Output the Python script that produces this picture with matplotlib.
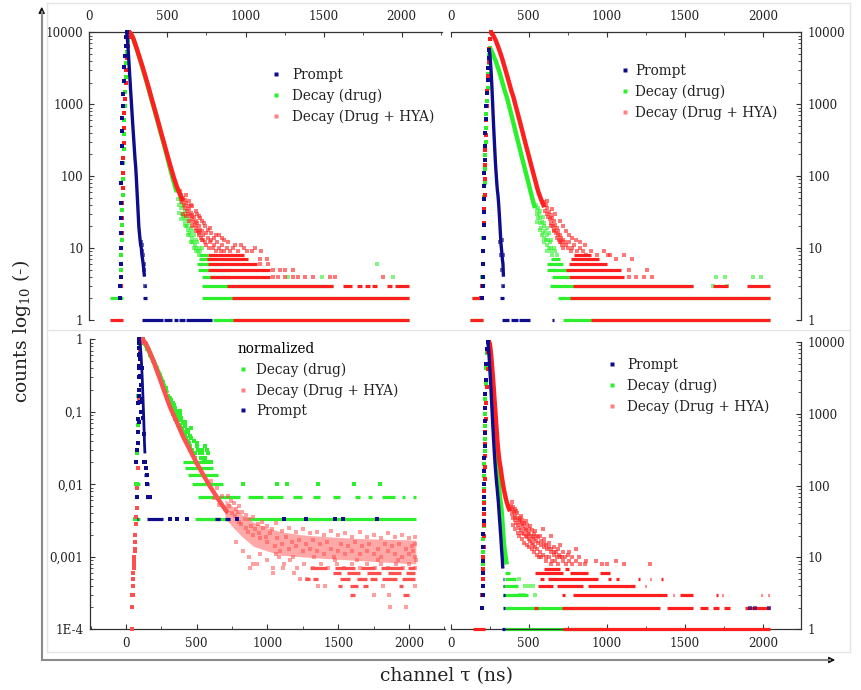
import matplotlib
matplotlib.use('Agg')
import matplotlib.pyplot as plt
from matplotlib.lines import Line2D
from matplotlib.patches import FancyArrowPatch
from matplotlib.ticker import MultipleLocator, FixedLocator, FixedFormatter, LogLocator, NullFormatter

plt.rcParams['font.family'] = ['DejaVu Serif']
plt.rcParams['mathtext.fontset'] = 'dejavuserif'

W, H = 862, 690

BLUE = '#0c0c8c'
GREEN = '#2cf02c'
RED = '#ff1f1f'
PINK = '#ff8080'

# ---------------- top left: raw counts ----------------
a_prompt_rise = [(196, 2), (198, 3), (200, 4), (201, 6), (202, 10), (203, 16), (204, 26), (205, 42), (206, 80),
                 (207, 150), (208, 260), (210, 420), (212, 640), (214, 950), (217, 1400), (220, 2100), (224, 3300),
                 (228, 4700), (232, 6500), (236, 8500), (239, 10000)]
a_prompt_fall = [(239, 10000), (242, 9000), (245, 7500), (249, 5600), (253, 4100), (257, 2900), (261, 2100),
                 (265, 1500), (269, 1100), (273, 790), (277, 570), (281, 420), (285, 310), (289, 230), (293, 170),
                 (297, 135), (301, 95), (305, 65), (309, 44), (313, 30), (317, 20), (321, 16), (325, 13), (329, 11),
                 (333, 10), (337, 8), (341, 7), (345, 6), (349, 5), (353, 4)]
a_prompt_tail = [(330, 12), (336, 9), (340, 11), (344, 8), (348, 6), (352, 5), (356, 3)]
a_prompt_rows = [(1, 335, 470), (1, 480, 530), (1, 545, 565), (1, 575, 610), (1, 620, 783), (2, 345, 372), (3, 350, 362)]

a_drug_rise = [(199, 2), (201, 3), (203, 5), (205, 8), (207, 13), (209, 21), (211, 34), (213, 55), (215, 90),
               (217, 150), (219, 240), (221, 380), (223, 600), (226, 950), (229, 1500), (233, 2400), (237, 3700),
               (241, 5400), (245, 7600), (250, 10000)]
a_drug_fall = [(250, 10000), (256, 9900), (265, 9600), (280, 8300), (300, 6200), (320, 4500), (340, 3250), (360, 2300),
               (380, 1620), (400, 1130), (420, 790), (440, 550), (460, 380), (480, 265), (500, 180), (520, 122),
               (540, 84), (560, 60)]
a_drug_tail = [(565, 48), (570, 62), (575, 40), (580, 52), (585, 36), (590, 44), (595, 30), (600, 38), (605, 26),
               (610, 33), (615, 24), (620, 29), (625, 20), (630, 25), (635, 18), (640, 22), (645, 15), (650, 19),
               (655, 14), (660, 17), (665, 12), (670, 15), (675, 11), (680, 13), (685, 10), (690, 12), (695, 9),
               (700, 10), (705, 8), (710, 9), (720, 10), (600, 28), (620, 20), (640, 16), (660, 12), (680, 9),
               (630, 15), (650, 12), (670, 10), (590, 25), (610, 21), (575, 31), (1274, 4), (1487, 4), (1946, 4),
               (1840, 6)]
a_drug_rows = [(2, 133, 218), (3, 182, 207), (1, 794, 2047), (2, 724, 2047), (3, 724, 1562), (4, 720, 900),
               (5, 698, 900), (6, 687, 850), (7, 700, 780), (8, 700, 760)]

a_hya_rise = [(198, 2), (200, 3), (202, 4), (204, 6), (206, 10), (208, 16), (210, 26), (212, 42), (214, 68),
              (216, 110), (218, 180), (220, 290), (222, 460), (225, 750), (228, 1200), (232, 1950), (236, 3000),
              (240, 4400), (245, 6400), (251, 8700), (256, 10000)]
a_hya_fall = [(256, 10000), (265, 9700), (280, 8400), (300, 6300), (320, 4600), (340, 3350), (360, 2400),
              (380, 1700), (400, 1180), (420, 830), (440, 580), (460, 400), (480, 280), (500, 195), (520, 137),
              (540, 97), (560, 72), (580, 56), (600, 45)]
a_hya_tail = [(580, 62), (585, 48), (590, 55), (595, 44), (600, 50), (605, 40), (610, 46), (615, 36), (620, 42),
              (625, 33), (630, 38), (635, 30), (640, 35), (645, 28), (650, 31), (655, 25), (660, 29), (665, 23),
              (670, 27), (675, 21), (680, 24), (685, 19), (690, 22), (695, 17), (700, 20), (705, 16), (710, 18),
              (715, 14), (720, 17), (725, 13), (730, 15), (740, 12), (745, 16), (750, 11), (760, 14), (765, 10),
              (770, 12), (780, 13), (790, 10), (800, 11), (810, 9), (820, 12), (830, 10), (840, 9), (850, 11),
              (860, 9), (880, 10), (900, 9), (920, 10), (950, 9), (990, 10), (1040, 9), (1100, 9), (600, 30),
              (620, 28), (640, 24), (660, 20), (680, 17), (700, 15), (720, 13), (650, 40), (680, 33), (700, 28),
              (720, 24), (740, 20), (760, 18), (780, 16), (800, 14), (830, 15), (860, 13), (620, 55), (640, 45),
              (660, 38), (1093, 6), (1146, 6), (1093, 7), (1136, 7), (1178, 4), (1210, 4), (1253, 4), (1306, 4),
              (1338, 4), (1381, 4), (1434, 4), (1541, 4), (1573, 4), (1882, 4), (1178, 5), (1221, 5), (1253, 5),
              (1306, 5), (690, 30), (710, 26), (735, 22), (770, 19), (810, 15), (850, 14), (890, 12), (930, 11),
              (970, 11), (1010, 9), (1060, 10)]
a_hya_rows = [(1, 133, 218), (1, 920, 2047), (2, 911, 2047), (3, 880, 1562), (3, 1626, 1680), (3, 1712, 1744),
              (3, 1765, 1797), (3, 1808, 1840), (3, 1904, 1936), (3, 1957, 2047), (4, 773, 1157), (5, 760, 1157),
              (6, 760, 1071), (7, 751, 1018), (8, 760, 990)]

# ---------------- top right: raw counts ----------------
b_prompt_rise = [(203, 2), (205, 3), (207, 4), (209, 6), (210, 9), (211, 14), (212, 21), (213, 32), (214, 48),
                 (215, 72), (216, 110), (218, 170), (220, 260), (222, 400), (225, 620), (228, 950), (232, 1450),
                 (236, 2200), (240, 3200), (244, 4400), (248, 5600)]
b_prompt_fall = [(248, 5600), (251, 4900), (254, 4100), (257, 3300), (260, 2600), (263, 1950), (266, 1400),
                 (269, 1000), (272, 700), (275, 500), (279, 330), (283, 220), (287, 150), (291, 110), (295, 82),
                 (299, 64), (303, 54), (307, 42), (311, 31), (315, 22), (319, 15), (323, 11), (327, 9), (331, 7),
                 (335, 6), (338, 4)]
b_prompt_tail = [(318, 12), (322, 8), (326, 13), (330, 5), (334, 8), (336, 3)]
b_prompt_rows = [(1, 327, 375), (1, 385, 430), (1, 440, 508), (1, 652, 664), (2, 315, 343), (3, 330, 340)]

b_drug_rise = [(197, 2), (200, 3), (203, 4), (206, 6), (208, 9), (210, 14), (212, 22), (214, 34), (216, 52),
               (218, 80), (220, 125), (222, 195), (224, 300), (226, 460), (229, 720), (232, 1100), (236, 1700),
               (240, 2600), (244, 3700), (248, 4900), (252, 6000)]
b_drug_fall = [(252, 6000), (260, 5600), (270, 5000), (280, 4400), (290, 3900), (300, 3350), (310, 2900),
               (320, 2450), (330, 2050), (340, 1720), (350, 1450), (360, 1250), (380, 850), (400, 570), (420, 380),
               (440, 255), (460, 170), (480, 115), (500, 78), (520, 52), (540, 36)]
b_drug_tail = [(545, 40), (550, 30), (555, 34), (560, 26), (565, 30), (570, 22), (575, 26), (580, 19), (585, 23),
               (590, 16), (595, 20), (600, 14), (605, 17), (610, 13), (615, 15), (620, 11), (625, 13), (630, 10),
               (635, 12), (640, 9), (645, 10), (650, 8), (560, 36), (575, 33), (590, 27), (600, 22), (615, 19),
               (630, 16), (645, 13), (660, 10), (670, 9), (680, 8), (555, 23), (570, 18), (585, 15), (600, 12),
               (620, 9), (1680, 3), (1770, 3), (1700, 4), (1760, 4), (1940, 4), (1990, 4)]
b_drug_rows = [(1, 125, 209), (2, 134, 209), (1, 722, 2047), (2, 690, 2047), (3, 636, 1553), (4, 650, 755),
               (5, 620, 760), (6, 620, 720), (7, 640, 700)]

b_hya_rise = [(195, 2), (200, 3), (204, 4), (207, 6), (209, 9), (211, 14), (213, 22), (215, 35), (217, 55),
              (219, 90), (221, 145), (223, 230), (225, 370), (228, 600), (231, 950), (235, 1550), (239, 2500),
              (243, 3900), (247, 5800), (251, 8000), (256, 10000)]
b_hya_fall = [(256, 10000), (270, 9300), (290, 7600), (310, 5800), (330, 4300), (350, 3050), (370, 2150),
              (390, 1500), (401, 1280), (420, 890), (440, 610), (460, 415), (480, 280), (500, 192), (520, 131),
              (540, 90), (560, 62), (580, 47), (600, 37)]
b_hya_tail = [(600, 44), (605, 33), (610, 40), (615, 30), (620, 36), (625, 27), (630, 32), (635, 25), (640, 29),
              (645, 22), (650, 26), (655, 20), (660, 24), (665, 18), (670, 21), (675, 16), (680, 19), (685, 15),
              (690, 17), (695, 13), (700, 15), (705, 12), (710, 14), (715, 11), (720, 13), (730, 12), (740, 11),
              (750, 10), (760, 12), (770, 9), (780, 10), (790, 11), (810, 9), (830, 10), (850, 9), (870, 8),
              (900, 9), (940, 8), (980, 9), (1020, 8), (1060, 7), (1110, 8), (640, 20), (660, 17), (680, 14),
              (700, 12), (720, 10), (620, 45), (650, 35), (670, 30), (700, 24), (720, 20), (740, 17), (760, 15),
              (780, 14), (800, 13), (830, 12), (860, 11), (1140, 4), (1190, 4), (1240, 4), (1290, 4), (1140, 5),
              (1260, 5), (1160, 7), (1010, 8)]
b_hya_rows = [(1, 125, 209), (1, 900, 2047), (2, 134, 209), (2, 765, 2047), (3, 784, 1553), (3, 1680, 1780),
              (3, 1900, 2047), (4, 755, 1110), (5, 740, 1090), (6, 760, 1000), (7, 770, 950), (8, 790, 900)]

# ---------------- bottom left: normalized ----------------
c_prompt_norm = 300
c_drug_norm = 300
c_hya_norm = 10000

c_prompt_rise = [(71, 6), (75, 2), (80, 9), (83, 11), (85, 16), (87, 24), (88, 40), (89, 60), (90, 90), (91, 130),
                 (92, 180), (93, 230), (94, 270), (95, 300)]
c_prompt_fall = [(95, 300), (98, 280), (101, 250), (104, 215), (107, 180), (110, 140), (113, 105), (116, 78),
                 (119, 55), (122, 38), (125, 26), (128, 17), (131, 11), (134, 8)]
c_prompt_tail = [(90, 22), (92, 50), (94, 120), (96, 190), (99, 41), (100, 160), (102, 95), (105, 70), (108, 30),
                 (112, 120), (115, 45), (120, 25), (124, 15), (130, 6), (138, 6), (141, 5), (146, 3), (150, 4),
                 (158, 2), (170, 2), (311, 1), (358, 1), (429, 1), (782, 1), (1117, 1), (1272, 1), (1477, 1),
                 (1536, 1), (1776, 1)]
c_prompt_rows = [(1, 75, 82), (1, 146, 264), (1, 629, 664), (1, 700, 735), (2, 140, 180), (3, 134, 165), (4, 125, 150)]

c_drug_rise = [(64, 1), (70, 3), (75, 3), (80, 8), (85, 20), (88, 50), (92, 120), (96, 200), (100, 260), (105, 290),
               (110, 300)]
c_drug_fall = [(112, 300), (130, 268), (150, 232), (170, 192), (190, 156), (210, 128), (230, 104), (250, 84),
               (270, 67), (290, 54)]
c_drug_tail = [(140, 252), (150, 218), (160, 214), (170, 180), (180, 176), (190, 150), (200, 146), (210, 122),
               (220, 120), (230, 98), (240, 96), (250, 80), (260, 78), (270, 62), (280, 64), (290, 50), (300, 50),
               (305, 42), (310, 47), (315, 40), (320, 44), (325, 36), (330, 40), (335, 33), (340, 37), (345, 30),
               (350, 34), (355, 28), (360, 31), (365, 25), (370, 29), (375, 23), (380, 27), (385, 20), (390, 25),
               (395, 18), (400, 22), (405, 16), (410, 21), (415, 15), (420, 19), (425, 13), (430, 17), (435, 12),
               (440, 16), (445, 11), (450, 14), (455, 10), (460, 13), (470, 9), (480, 12), (490, 8), (500, 10),
               (510, 9), (520, 8), (530, 7), (540, 8), (550, 6), (560, 7), (575, 6), (582, 8), (590, 6), (600, 6),
               (330, 28), (350, 24), (370, 20), (390, 17), (410, 13), (430, 11), (450, 9), (470, 8), (490, 7),
               (310, 36), (290, 46), (380, 31), (420, 22), (460, 18), (500, 11), (540, 9), (560, 10), (575, 9),
               (829, 3), (1065, 3), (1136, 3), (1355, 3), (1614, 3), (1795, 3)]
c_drug_rows = [(1, 52, 99), (1, 488, 2048), (2, 511, 806), (2, 865, 971), (2, 994, 1112), (2, 1183, 1242),
               (2, 1324, 1371), (2, 1465, 1513), (2, 1619, 1654), (2, 1713, 1737), (2, 1807, 1901), (2, 1948, 1972),
               (2, 2031, 2048), (3, 64, 99), (3, 464, 688), (4, 440, 650), (5, 417, 617), (6, 405, 560)]

c_hya_rise = [(40, 1), (42, 2), (44, 2), (46, 3), (47, 3), (48, 4), (50, 5), (52, 4), (52, 6), (54, 7), (56, 8),
              (58, 10), (60, 9), (61, 13), (63, 12), (64, 16), (66, 20), (68, 28), (71, 35), (75, 47), (80, 88),
              (84, 170), (87, 530), (90, 1500), (95, 4000), (100, 7000), (106, 9000), (112, 9800), (118, 10000)]
c_hya_fall = [(118, 10000), (140, 8800), (160, 7200), (180, 5900), (200, 4700), (217, 3770), (240, 2850),
              (260, 2200), (280, 1720), (300, 1340), (311, 1170), (330, 965), (350, 790), (370, 645), (390, 525),
              (405, 450), (425, 378), (450, 303), (475, 243), (500, 195), (525, 160), (550, 131), (575, 108),
              (594, 93), (620, 78), (650, 63), (688, 49), (720, 40)]
c_hya_cloud = [(700, 34, 62), (760, 25, 48), (820, 19, 38), (900, 14, 30), (1000, 12, 25), (1100, 10.5, 22),
               (1250, 10, 20), (1400, 9.5, 19), (1600, 9, 18), (1800, 8.5, 17.5), (2048, 8, 17)]
c_hya_tail = [(600, 110), (620, 65), (640, 90), (660, 52), (680, 70), (700, 45), (720, 70), (740, 58), (760, 55),
              (780, 45), (800, 50), (820, 42), (850, 38), (870, 33), (900, 35), (930, 28), (960, 30), (1000, 27),
              (1030, 24), (1060, 29), (1100, 23), (1150, 25), (1200, 22), (1250, 24), (1300, 21), (1350, 22),
              (1400, 20), (1450, 23), (1500, 20), (1550, 21), (1600, 19), (1650, 22), (1700, 19), (1750, 20),
              (1800, 18), (1850, 21), (1900, 19), (1950, 20), (2000, 18), (2040, 19), (2045, 15),
              (780, 16), (830, 12), (870, 10), (900, 8), (950, 11), (1000, 9), (1040, 7), (1080, 10), (1120, 8),
              (1160, 9), (1210, 7), (1260, 8), (1320, 7), (1380, 8), (1430, 7), (1490, 8), (1540, 7), (1600, 8),
              (1650, 7), (1700, 8), (1760, 7), (1800, 8), (1850, 7), (1910, 8), (1960, 7), (2000, 8), (2040, 7),
              (750, 40), (800, 30), (850, 25), (900, 20), (950, 18), (1000, 16), (1050, 14), (1100, 15), (1150, 13),
              (1200, 14), (1250, 12), (1300, 13), (1350, 12), (1400, 11), (1450, 13), (1500, 12), (1550, 11),
              (1600, 12), (1650, 11), (1700, 12), (1750, 11), (1800, 10), (1850, 12), (1900, 11), (1950, 10),
              (2000, 11), (2040, 10), (2046, 9), (876, 7), (923, 8), (1041, 6), (1110, 7), (1190, 6), (1230, 5),
              (1280, 5), (1359, 4), (1406, 4), (1753, 3), (1859, 3), (1866, 2), (1979, 2), (1819, 4), (2043, 4),
              (730, 50), (770, 36), (790, 42), (810, 28), (840, 33), (860, 22), (880, 27), (910, 24), (940, 21),
              (970, 25), (990, 19), (1020, 21), (1070, 18), (1090, 12), (1130, 19), (1170, 16), (1220, 17),
              (1270, 15), (1320, 17), (1370, 15), (1420, 16), (1470, 10), (1520, 15), (1570, 14), (1620, 16),
              (1670, 14), (1720, 15), (1780, 13), (1830, 15), (1880, 14), (1930, 15), (1980, 13), (2020, 14),
              (1060, 11), (1180, 10), (1330, 10), (1480, 9), (1630, 9), (1780, 9), (1920, 9), (2030, 12)]
c_hya_rows = [(7, 1300, 1420), (7, 1480, 1620), (7, 1660, 1760), (7, 1800, 1960), (7, 1990, 2043),
              (6, 1465, 1520), (6, 1560, 1650), (6, 1700, 1800), (6, 1850, 1940), (6, 1980, 2043),
              (5, 1265, 1300), (5, 1324, 1360), (5, 1512, 1583), (5, 1630, 1700), (5, 1724, 1772), (5, 1807, 1913),
              (5, 1948, 2043), (4, 1500, 1525), (4, 1583, 1642), (4, 1677, 1713), (4, 1932, 1955),
              (3, 1583, 1618), (3, 1960, 2000)]

# ---------------- bottom right: raw counts ----------------
d_prompt_rise = [(203, 2), (205, 3), (206, 4), (207, 6), (208, 9), (209, 14), (210, 21), (211, 32), (212, 48),
                 (213, 70), (214, 105), (215, 160), (216, 240), (217, 360), (218, 540), (219, 800), (220, 1200),
                 (222, 1900), (225, 3000), (229, 5000), (234, 8000), (238, 10000)]
d_prompt_fall = [(238, 10000), (242, 8500), (246, 6500), (250, 4600), (254, 3200), (258, 2200), (262, 1500),
                 (266, 1000), (270, 680), (274, 470), (278, 330), (282, 240), (286, 180), (290, 140), (294, 110),
                 (298, 90), (302, 72), (306, 57), (310, 42), (314, 32), (318, 24), (322, 18), (326, 13), (330, 10),
                 (334, 7)]
d_prompt_tail = [(198, 2), (1918, 2), (1950, 2), (2043, 2)]
d_prompt_rows = [(1, 327, 348), (2, 332, 345), (3, 333, 345), (4, 333, 343), (5, 333, 340)]

d_drug_rise = [(202, 2), (204, 3), (206, 4), (207, 6), (208, 8), (209, 12), (210, 18), (211, 27), (212, 40),
               (213, 60), (214, 90), (215, 135), (216, 200), (217, 300), (218, 450), (219, 680), (220, 1000),
               (222, 1600), (225, 2600), (229, 4300), (234, 7000), (241, 10000)]
d_drug_fall = [(241, 10000), (245, 8800), (249, 7200), (253, 5600), (257, 4200), (261, 3100), (265, 2300),
               (269, 1700), (273, 1250), (277, 920), (281, 680), (285, 500), (289, 380), (293, 290), (297, 220),
               (301, 170), (305, 130), (309, 100), (313, 80), (317, 66), (321, 58), (325, 48), (329, 38), (333, 28),
               (337, 21), (341, 16), (345, 13), (350, 11), (355, 9), (360, 8)]
d_drug_tail = [(540, 3), (476, 4), (440, 5), (444, 3), (530, 4), (470, 3), (500, 4)]
d_drug_rows = [(1, 348, 978), (2, 348, 1000), (3, 337, 497), (4, 340, 430), (5, 345, 420), (6, 350, 380)]

d_hya_rise = [(200, 2), (203, 3), (205, 4), (207, 5), (209, 7), (210, 10), (211, 14), (212, 20), (213, 28),
              (214, 40), (215, 58), (216, 85), (217, 125), (218, 180), (219, 260), (220, 380), (222, 560),
              (224, 850), (227, 1400), (231, 2400), (236, 4200), (242, 7200), (248, 10000)]
d_hya_fall = [(248, 10000), (252, 9000), (256, 7600), (260, 6200), (264, 4900), (268, 3800), (272, 2900),
              (276, 2200), (280, 1650), (284, 1250), (288, 940), (292, 700), (296, 520), (300, 400), (305, 300),
              (310, 240), (315, 200), (320, 175), (326, 140), (332, 115), (338, 95), (345, 80), (352, 68),
              (360, 58), (370, 50), (380, 44)]
d_hya_tail = [(385, 52), (390, 40), (395, 46), (400, 36), (405, 43), (410, 33), (415, 38), (420, 30), (425, 36),
              (430, 28), (435, 33), (440, 26), (445, 31), (450, 24), (455, 29), (460, 22), (465, 27), (470, 21),
              (475, 25), (480, 20), (485, 24), (490, 19), (495, 22), (500, 18), (505, 21), (510, 17), (515, 20),
              (520, 16), (525, 19), (530, 15), (535, 18), (540, 14), (545, 17), (550, 13), (560, 16), (570, 12),
              (580, 15), (590, 11), (600, 14), (610, 10), (620, 13), (630, 10), (640, 12), (650, 9), (660, 11),
              (670, 9), (680, 10), (690, 8), (700, 10), (720, 9), (740, 8), (760, 9), (780, 8), (800, 9), (830, 8),
              (860, 8), (420, 45), (450, 38), (480, 32), (510, 27), (540, 23), (570, 20), (600, 18), (630, 16),
              (660, 14), (690, 13), (720, 12), (750, 11), (400, 28), (430, 22), (460, 18), (490, 15), (520, 13),
              (550, 11), (580, 10), (610, 9), (640, 8), (590, 25), (640, 20), (700, 15), (760, 12), (800, 13),
              (820, 10), (870, 9), (930, 9), (968, 8), (1000, 8), (1060, 9), (1110, 8), (1280, 8),
              (392, 60), (398, 50), (412, 48), (428, 41), (442, 35), (458, 33), (472, 30), (488, 28), (502, 25),
              (518, 24), (532, 21), (548, 20), (562, 19), (578, 17), (595, 16), (612, 15), (628, 14), (645, 13),
              (662, 12), (678, 12), (696, 11), (712, 10), (735, 10), (775, 10), (410, 25), (440, 20), (470, 16),
              (505, 14), (535, 12), (565, 10)]
d_hya_rows = [(1, 145, 220), (1, 722, 2047), (2, 535, 560), (2, 711, 1342), (2, 1384, 1555), (2, 1598, 1650),
              (2, 1680, 1720), (2, 1750, 1790), (2, 1887, 2047), (3, 711, 730), (3, 786, 1384), (3, 1427, 1433),
              (3, 1470, 1555), (3, 1700, 1710), (3, 1740, 1746), (3, 1990, 1996), (3, 2033, 2040), (4, 562, 658),
              (4, 679, 850), (4, 882, 1181), (4, 1243, 1250), (5, 570, 600), (5, 626, 946), (5, 1010, 1030),
              (5, 1060, 1080), (5, 1200, 1210), (5, 1275, 1285), (5, 1350, 1360), (6, 540, 722), (6, 765, 882),
              (6, 957, 1020), (7, 600, 700), (7, 730, 760)]


fig = plt.figure(figsize=(W / 100, H / 100), dpi=100)


def box(x0, y0, x1, y1):
    return [x0 / W, 1 - y1 / H, (x1 - x0) / W, (y1 - y0) / H]


def setup(ax, xlim, ylim, xside, yside, xpad, ypad, yticks, ylabels):
    ax.set_yscale('log')
    ax.set_xlim(*xlim)
    ax.set_ylim(*ylim)
    for s in ['top', 'bottom', 'left', 'right']:
        ax.spines[s].set_visible(s in (xside, yside))
        ax.spines[s].set_color('#333333')
        ax.spines[s].set_linewidth(0.9)
    ax.xaxis.set_ticks_position(xside)
    ax.yaxis.set_ticks_position(yside)
    ax.xaxis.set_major_locator(MultipleLocator(500))
    ax.xaxis.set_minor_locator(MultipleLocator(250))
    ax.yaxis.set_major_locator(FixedLocator(yticks))
    ax.yaxis.set_major_formatter(FixedFormatter(ylabels))
    ax.yaxis.set_minor_locator(LogLocator(10, subs=range(2, 10), numticks=20))
    ax.yaxis.set_minor_formatter(NullFormatter())
    ax.tick_params(which='both', direction='in', colors='#333333', labelcolor='#222222', labelsize=8.6)
    ax.tick_params(which='major', length=3.5, width=0.8)
    ax.tick_params(which='minor', length=2, width=0.6)
    ax.tick_params(axis='x', pad=xpad)
    ax.tick_params(axis='y', pad=ypad)
    ax.patch.set_alpha(0)


def unzip(pairs, norm=1.0):
    xs = [p[0] for p in pairs]
    ys = [p[1] / norm for p in pairs]
    return xs, ys


def series(ax, color, rise, fall, tail, rows, z, norm=1.0, tail_alpha=0.6, fall_lw=3.2):
    if rows:
        ax.hlines([r[0] / norm for r in rows], [r[1] for r in rows], [r[2] for r in rows],
                  colors=color, lw=2.3, zorder=z, clip_on=False)
    x, y = unzip(rise, norm)
    ax.scatter(x, y, s=5.5, marker='s', color=color, lw=0, zorder=z, clip_on=False)
    x, y = unzip(fall, norm)
    ax.plot(x, y, color=color, lw=fall_lw, zorder=z, clip_on=False, solid_capstyle='butt')
    x, y = unzip(tail, norm)
    ax.scatter(x, y, s=6.5, marker='s', color=color, lw=0, alpha=tail_alpha, zorder=z, clip_on=False)


def handles(colors):
    return [Line2D([], [], ls='none', marker='s', ms=2.8, mec='none', mfc=c) for c in colors]


def legend(ax, colors, labels, left, top, hpad, title=None):
    leg = ax.legend(handles(colors), labels, loc='upper left',
                    bbox_to_anchor=(left / W, 1 - top / H), bbox_transform=fig.transFigure,
                    frameon=False, fontsize=9.8, handlelength=0.7, handletextpad=hpad,
                    labelspacing=0.47, borderpad=0, borderaxespad=0, title=title,
                    title_fontsize=9.8, alignment='left')
    for t in leg.get_texts():
        t.set_color('#222222')
    return leg


count_ticks = [1, 10, 100, 1000, 10000]
count_labels = ['1', '10', '100', '1000', '10000']
leg_labels = ['Prompt', 'Decay (drug)', 'Decay (Drug + HYA)']

# top left
ax_a = fig.add_axes(box(89.3, 32.3, 441.7, 320))
setup(ax_a, (0, 2256), (1, 10000), 'top', 'left', 6.6, 4.3, count_ticks, count_labels)
series(ax_a, GREEN, a_drug_rise, a_drug_fall, a_drug_tail, a_drug_rows, 2)
series(ax_a, RED, a_hya_rise, a_hya_fall, a_hya_tail, a_hya_rows, 3)
series(ax_a, BLUE, a_prompt_rise, a_prompt_fall, a_prompt_tail, a_prompt_rows, 4, fall_lw=2.4)
legend(ax_a, [BLUE, GREEN, PINK], leg_labels, 271, 68, 0.83)

# top right
ax_b = fig.add_axes(box(450.7, 32.3, 801, 320))
setup(ax_b, (0, 2245), (1, 10000), 'top', 'right', 6.6, 5, count_ticks, count_labels)
series(ax_b, GREEN, b_drug_rise, b_drug_fall, b_drug_tail, b_drug_rows, 2)
series(ax_b, RED, b_hya_rise, b_hya_fall, b_hya_tail, b_hya_rows, 3)
series(ax_b, BLUE, b_prompt_rise, b_prompt_fall, b_prompt_tail, b_prompt_rows, 4, fall_lw=2.4)
legend(ax_b, [BLUE, GREEN, PINK], leg_labels, 620, 64, 0.39)

# bottom left (normalized)
ax_c = fig.add_axes(box(90, 339.3, 445, 629.3))
setup(ax_c, (-254, 2254), (1e-4, 1), 'bottom', 'left', 5.3, 4.8,
      [1e-4, 1e-3, 1e-2, 1e-1, 1], ['1E-4', '0,001', '0,01', '0,1', '1'])
series(ax_c, GREEN, c_drug_rise, c_drug_fall, c_drug_tail, c_drug_rows, 2, norm=c_drug_norm, tail_alpha=1.0, fall_lw=3.4)
cx = [c[0] for c in c_hya_cloud]
ax_c.fill_between(cx, [c[1] / c_hya_norm for c in c_hya_cloud], [c[2] / c_hya_norm for c in c_hya_cloud],
                  color='#ffa8a8', lw=0, zorder=2.5)
series(ax_c, '#ff5050', c_hya_rise, c_hya_fall, c_hya_tail, c_hya_rows, 3, norm=c_hya_norm, tail_alpha=0.55, fall_lw=3.2)
series(ax_c, BLUE, c_prompt_rise, c_prompt_fall, c_prompt_tail, c_prompt_rows, 4, norm=c_prompt_norm, tail_alpha=1.0,
       fall_lw=2)
legend(ax_c, [GREEN, PINK, BLUE], ['Decay (drug)', 'Decay (Drug + HYA)', 'Prompt'], 238, 342, 0.61, title='normalized')

# bottom right
ax_d = fig.add_axes(box(450.7, 342, 801, 629.3))
setup(ax_d, (0, 2245), (1, 10000), 'bottom', 'right', 5.3, 5, count_ticks, count_labels)
series(ax_d, GREEN, d_drug_rise, d_drug_fall, d_drug_tail, d_drug_rows, 2)
series(ax_d, RED, d_hya_rise, d_hya_fall, d_hya_tail, d_hya_rows, 3)
series(ax_d, BLUE, d_prompt_rise, d_prompt_fall, d_prompt_tail, d_prompt_rows, 4, fall_lw=2.4)
legend(ax_d, [BLUE, GREEN, PINK], leg_labels, 607, 358, 0.76)

# faint frame of the composite and outer arrows
faint = '#e4e4e4'
for xs, ys in [([46.7, 850], [3, 3]), ([46.7, 46.7], [3, 652]), ([46.7, 850], [652, 652]),
               ([850, 850], [3, 652]), ([46.7, 850], [330, 330])]:
    fig.add_artist(Line2D([x / W for x in xs], [1 - y / H for y in ys], color=faint, lw=1))

fig.add_artist(Line2D([41.7 / W, 41.7 / W], [1 - 660 / H, 1 - 12 / H], color='#8a8a8a', lw=1.5))
fig.add_artist(Line2D([41.7 / W, 830 / W], [1 - 660 / H, 1 - 660 / H], color='#8a8a8a', lw=1.5))
fig.add_artist(FancyArrowPatch((41.7 / W, 1 - 16 / H), (41.7 / W, 1 - 4 / H), transform=fig.transFigure,
                               arrowstyle='-|>', mutation_scale=9, color='#111111', lw=1))
fig.add_artist(FancyArrowPatch((826 / W, 1 - 660 / H), (838 / W, 1 - 660 / H), transform=fig.transFigure,
                               arrowstyle='-|>', mutation_scale=9, color='#111111', lw=1))

fig.text(22 / W, 1 - 331 / H, 'counts log$_{10}$ (-)', rotation=90, ha='center', va='center',
         fontsize=13.5, color='#222222')
fig.text(447 / W, 1 - 676 / H, 'channel τ (ns)', ha='center', va='center', fontsize=13.5, color='#222222')

fig.savefig('out.png', dpi=100)
